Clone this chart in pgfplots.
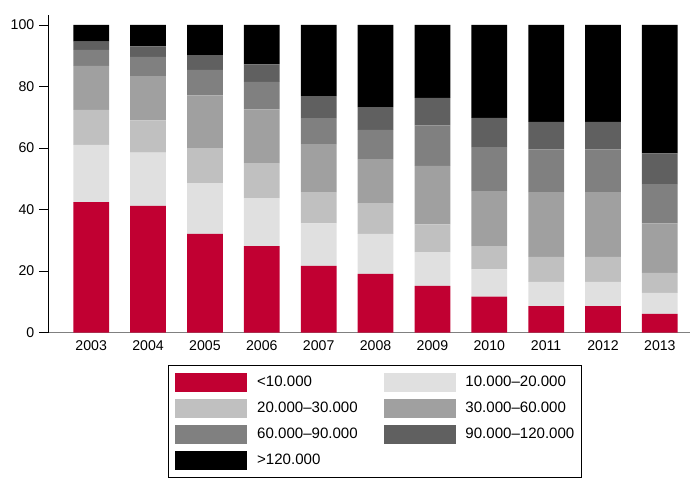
\documentclass[border=0pt]{standalone}
\usepackage{pgfplots}
\pgfplotsset{compat=1.18}
\usepackage{pgfplotstable}
\usepackage{fontspec}
\setmainfont{Liberation Sans}

\definecolor{cA}{RGB}{193,0,50}
\definecolor{cB}{RGB}{224,224,224}
\definecolor{cC}{RGB}{192,192,192}
\definecolor{cD}{RGB}{160,160,160}
\definecolor{cE}{RGB}{128,128,128}
\definecolor{cF}{RGB}{96,96,96}
\definecolor{cG}{RGB}{0,0,0}

% share of each size class per year (percent)
\pgfplotstableread{
x  a    b    c    d    e    f    g
0  42.4 18.6 11.4 14.3 5.2  2.7  5.4
1  41.2 17.3 10.5 14.4 6.2  3.4  7.0
2  32.1 16.5 11.4 17.1 8.3  4.8  9.8
3  28.1 15.6 11.4 17.5 8.9  5.7  12.8
4  21.7 13.8 10.2 15.6 8.4  7.2  23.1
5  19.1 13.0 10.0 14.3 9.5  7.4  26.7
6  15.2 11.0 9.0  19.0 13.2 8.9  23.7
7  11.7 8.9  7.5  17.9 14.3 9.5  30.2
8  8.6  7.9  8.1  21.1 13.9 8.9  31.5
9  8.6  7.9  8.1  21.1 13.9 8.9  31.5
10 6.1  6.8  6.5  16.1 12.8 10.0 41.7
}\data

\begin{document}
\begin{tikzpicture}
\path[use as bounding box] (-36pt,-109.7pt) rectangle (481.5pt,249.5pt);
\begin{axis}[
  scale only axis,
  width=481.5pt, height=238.3pt,
  ybar stacked, bar width=26.8pt,
  xmin=-0.76, xmax=10.53,
  ymin=0, ymax=103.25,
  xtick=data,
  xticklabels={2003,2004,2005,2006,2007,2008,2009,2010,2011,2012,2013},
  ytick={0,20,40,60,80,100},
  axis x line*=bottom, axis y line*=left,
  x axis line style={gray, line width=0.8pt},
  y axis line style={black, line width=0.6pt},
  xtick style={draw=none},
  ytick style={black, line width=0.6pt},
  tick align=outside, major tick length=6.75pt,
  tick label style={font=\fontsize{10.6}{12}\selectfont},
  xticklabel style={yshift=4pt},
  /pgf/number format/assume math mode=true,
  /pgf/number format/1000 sep={},
  legend columns=2,
  legend cell align=left,
  legend style={
    at={(axis description cs:0.187,-0.1017)}, anchor=north west,
    draw=black, line width=0.6pt,
    font=\fontsize{11.3}{13}\selectfont,
    nodes={inner sep=0pt},
    inner xsep=5.25pt, inner ysep=5.6pt,
    row sep=5.25pt,
    /tikz/every odd column/.append style={column sep=7.3pt},
    /tikz/every even column/.append style={column sep=19.5pt},
  },
  legend image code/.code={\fill[#1] (0pt,-7.125pt) rectangle (54pt,7.125pt);},
]
\addplot[fill=cA, draw=none] table[x=x,y=a]{\data};
\addplot[fill=cB, draw=none] table[x=x,y=b]{\data};
\addplot[fill=cC, draw=none] table[x=x,y=c]{\data};
\addplot[fill=cD, draw=none] table[x=x,y=d]{\data};
\addplot[fill=cE, draw=none] table[x=x,y=e]{\data};
\addplot[fill=cF, draw=none] table[x=x,y=f]{\data};
\addplot[fill=cG, draw=none] table[x=x,y=g]{\data};
\legend{<10.000,10.000–20.000,20.000–30.000,30.000–60.000,60.000–90.000,90.000–120.000,>120.000}
\end{axis}
\end{tikzpicture}
\end{document}
